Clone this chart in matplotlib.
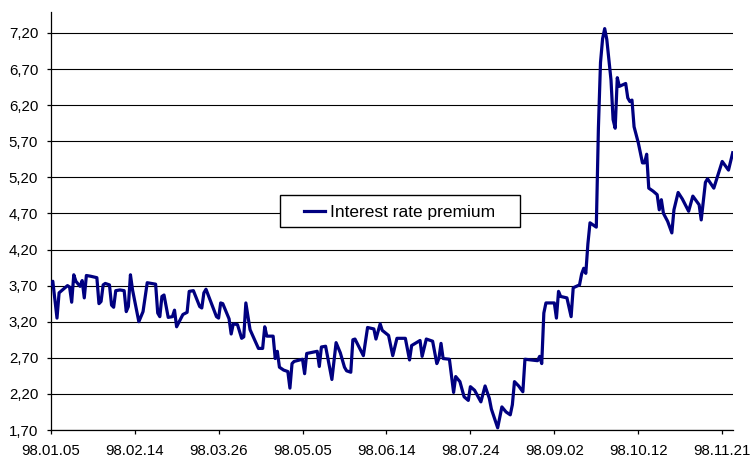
import pandas as pd
import matplotlib
matplotlib.use("Agg")
import matplotlib.pyplot as plt
import matplotlib.dates as mdates
from matplotlib.patches import Rectangle

plt.rcParams['font.family'] = ['Liberation Sans', 'DejaVu Sans']

# Interest rate premium, 1998 (day offsets counted from 98.01.05)
start = pd.Timestamp('1998-01-05')
days = [0, 1, 3, 4, 8, 9, 10, 11, 12, 14,
        15, 16, 17, 19, 22, 23, 24, 25, 26, 28,
        29, 30, 31, 33, 35, 36, 37, 38, 39, 42,
        44, 46, 50, 51, 52, 53, 54, 56, 58, 59,
        60, 63, 65, 66, 68, 71, 72, 73, 74, 79,
        80, 81, 82, 85, 86, 87, 89, 91, 92, 93,
        95, 99, 101, 102, 103, 106, 107, 108, 109, 111,
        113, 114, 115, 116, 120, 121, 122, 127, 128, 129,
        131, 134, 136, 138, 140, 141, 143, 144, 145, 149,
        151, 154, 155, 157, 158, 161, 163, 165, 169, 171,
        172, 176, 177, 179, 182, 184, 185, 186, 187, 190,
        192, 193, 195, 197, 199, 200, 202, 205, 207, 209,
        210, 213, 215, 217, 219, 220, 221, 223, 225, 226,
        232, 233, 234, 235, 236, 240, 241, 242, 243, 246,
        248, 249, 252, 253, 254, 255, 256, 257, 260, 261,
        262, 263, 264, 265, 267, 268, 269, 270, 271, 274,
        275, 276, 277, 278, 280, 282, 283, 284, 285, 287,
        289, 290, 291, 292, 294, 296, 297, 299, 301, 304,
        306, 309, 310, 312, 313, 316, 319, 320, 323, 325]
premium = [3.72, 3.76, 3.25, 3.60, 3.70, 3.68, 3.47, 3.85, 3.76, 3.69,
           3.77, 3.53, 3.84, 3.83, 3.81, 3.45, 3.48, 3.71, 3.73, 3.71,
           3.43, 3.40, 3.63, 3.64, 3.63, 3.34, 3.41, 3.85, 3.64, 3.20,
           3.34, 3.74, 3.72, 3.32, 3.27, 3.55, 3.57, 3.26, 3.27, 3.36,
           3.13, 3.30, 3.33, 3.62, 3.63, 3.41, 3.39, 3.60, 3.65, 3.27,
           3.25, 3.46, 3.45, 3.24, 3.03, 3.17, 3.16, 2.97, 2.99, 3.46,
           3.09, 2.83, 2.83, 3.13, 3.00, 3.00, 2.69, 2.79, 2.57, 2.53,
           2.51, 2.28, 2.62, 2.65, 2.68, 2.48, 2.76, 2.79, 2.58, 2.85,
           2.86, 2.40, 2.91, 2.77, 2.57, 2.52, 2.50, 2.95, 2.96, 2.73,
           3.12, 3.10, 2.96, 3.17, 3.08, 3.01, 2.73, 2.97, 2.97, 2.67,
           2.87, 2.94, 2.72, 2.96, 2.93, 2.62, 2.69, 2.90, 2.69, 2.68,
           2.22, 2.44, 2.37, 2.16, 2.11, 2.30, 2.25, 2.09, 2.31, 2.14,
           1.99, 1.73, 2.02, 1.95, 1.91, 2.05, 2.37, 2.31, 2.23, 2.68,
           2.66, 2.72, 2.62, 3.32, 3.46, 3.46, 3.25, 3.62, 3.55, 3.53,
           3.27, 3.67, 3.71, 3.86, 3.94, 3.87, 4.28, 4.57, 4.51, 5.88,
           6.79, 7.12, 7.26, 7.11, 6.55, 6.00, 5.88, 6.58, 6.46, 6.50,
           6.30, 6.25, 6.27, 5.90, 5.68, 5.40, 5.40, 5.52, 5.05, 5.01,
           4.96, 4.75, 4.89, 4.70, 4.59, 4.43, 4.75, 4.99, 4.90, 4.73,
           4.94, 4.82, 4.61, 5.13, 5.18, 5.05, 5.33, 5.42, 5.30, 5.54]

tick_days = [0, 40, 80, 120, 160, 200, 240, 280, 320]
y_ticks = [1.70, 2.20, 2.70, 3.20, 3.70, 4.20, 4.70, 5.20, 5.70, 6.20, 6.70, 7.20]

dates = start + pd.to_timedelta(days, unit='D')
tick_dates = start + pd.to_timedelta(tick_days, unit='D')

fig = plt.figure(figsize=(7.55, 4.58), dpi=100)
ax = fig.add_axes([50.7 / 755, 1 - 430 / 458, 682 / 755, 418 / 458])

ax.plot(dates, premium, color='#000080', lw=2.3, zorder=3, label='Interest rate premium')

ax.set_xlim(start, start + pd.Timedelta(days=325))
ax.set_ylim(1.70, 7.49)
ax.set_xticks(tick_dates)
ax.xaxis.set_major_formatter(mdates.DateFormatter('%y.%m.%d'))
ax.set_yticks(y_ticks)
ax.set_yticklabels([('%.2f' % v).replace('.', ',') for v in y_ticks])

ax.yaxis.grid(True, color='black', lw=0.8, zorder=0)
ax.set_axisbelow(True)
for s in ['top', 'right']:
    ax.spines[s].set_visible(False)
for s in ['left', 'bottom']:
    ax.spines[s].set_color('black')
    ax.spines[s].set_linewidth(0.9)
ax.tick_params(axis='both', direction='out', length=3, width=0.9, color='black',
               labelsize=10.8, labelcolor='black')
ax.tick_params(axis='x', pad=7)
ax.tick_params(axis='y', pad=6)

# legend box drawn by hand so it can be wider than its contents
ax.add_patch(Rectangle((280 / 755, 1 - 227 / 458), 240 / 755, 32 / 458,
                       transform=fig.transFigure, facecolor='white', edgecolor='black',
                       lw=1, zorder=4, clip_on=False))
ax.legend(loc='center', bbox_to_anchor=(400 / 755, 1 - 212 / 458),
          bbox_transform=fig.transFigure, frameon=False, fontsize=12.5,
          handlelength=1.2, handletextpad=0.3).set_zorder(5)

plt.savefig('out.png', dpi=100)
